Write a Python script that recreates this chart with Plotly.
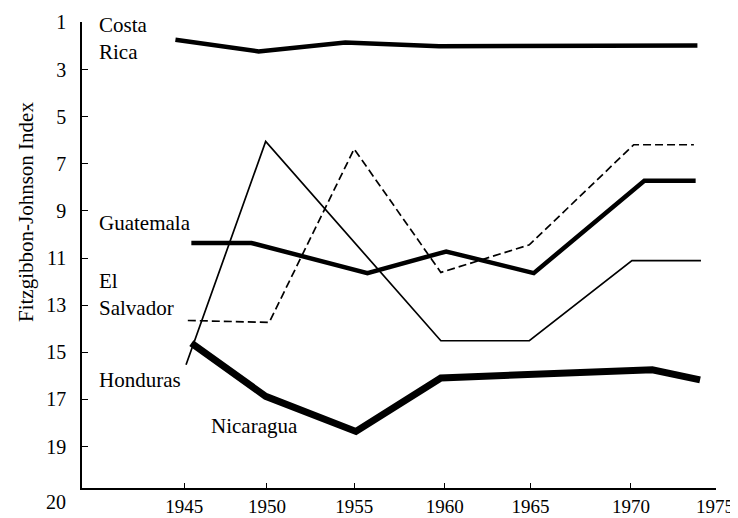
import plotly.graph_objects as go

# ── Data ─────────────────────────────────────────────────────────────────────
COSTA_RICA_YEARS = [1944.5, 1949.2, 1954.1, 1959.4, 1974.0]
COSTA_RICA_INDEX = [1.73, 2.23, 1.85, 2.01, 1.98]

HONDURAS_YEARS = [1945.1, 1949.6, 1959.5, 1964.5, 1970.3, 1974.2]
HONDURAS_INDEX = [15.53, 6.05, 14.51, 14.51, 11.11, 11.11]

EL_SALVADOR_YEARS = [1945.2, 1949.8, 1954.6, 1959.5, 1964.5, 1970.4, 1973.8]
EL_SALVADOR_INDEX = [13.65, 13.73, 6.37, 11.61, 10.44, 6.19, 6.19]

GUATEMALA_YEARS = [1945.4, 1948.8, 1955.35, 1959.8, 1964.75, 1971.0, 1973.9]
GUATEMALA_INDEX = [10.36, 10.36, 11.64, 10.72, 11.64, 7.72, 7.72]

NICARAGUA_YEARS = [1945.4, 1949.6, 1954.7, 1959.5, 1971.45, 1974.15]
NICARAGUA_INDEX = [14.61, 16.87, 18.36, 16.09, 15.74, 16.17]

# the hand-drawn year ticks are not evenly spaced
X_TICK_POS = [1945, 1949.67, 1954.6, 1959.72, 1964.57, 1970.24, 1975]
X_TICK_TEXT = ["1945", "1950", "1955", "1960", "1965", "1970", "1975"]
Y_TICK_VALS = [1, 3, 5, 7, 9, 11, 13, 15, 17, 19]

FONT = "Liberation Serif, Times New Roman, serif"
INK = "#000000"

# the page body adds an 8px margin, so the figure is drawn 8px in from the corner
PAGE = 8
W, H = 738 - PAGE, 518 - PAGE
# plot box in figure pixels
L, R, T, B = 82 - PAGE, 22, 22 - PAGE, 30
PW, PH = W - L - R, H - T - B


def px_x(x):
    # screen pixel -> paper fraction
    return (x - PAGE - L) / PW


def px_y(y):
    return 1 - (y - PAGE - T) / PH


fig = go.Figure()

for xs, ys, width, dash in [
    (COSTA_RICA_YEARS, COSTA_RICA_INDEX, 4.5, "solid"),
    (HONDURAS_YEARS, HONDURAS_INDEX, 1.7, "solid"),
    (EL_SALVADOR_YEARS, EL_SALVADOR_INDEX, 1.7, "8px,4px"),
    (GUATEMALA_YEARS, GUATEMALA_INDEX, 4.5, "solid"),
    (NICARAGUA_YEARS, NICARAGUA_INDEX, 7, "solid"),
]:
    fig.add_trace(go.Scatter(
        x=xs, y=ys, mode="lines",
        line=dict(color=INK, width=width, dash=dash),
        showlegend=False, hoverinfo="skip",
    ))

# country labels, placed as in the original
labels = [
    ("Costa<br>Rica", 97, 38),
    ("Guatemala", 97, 223),
    ("El<br>Salvador", 97, 294),
    ("Honduras", 97, 380),
    ("Nicaragua", 209, 426),
]
for text, xpx, ypx in labels:
    fig.add_annotation(
        text=text, xref="paper", yref="paper",
        x=px_x(xpx), y=px_y(ypx),
        xanchor="left", yanchor="middle", align="left",
        showarrow=False, font=dict(family=FONT, size=21, color=INK),
    )

# bottom label of the index axis sits under the corner
fig.add_annotation(
    text="20", xref="paper", yref="paper", x=0, y=0,
    xanchor="right", yanchor="top", xshift=-14, yshift=-1,
    showarrow=False, font=dict(family=FONT, size=20, color=INK),
)

# axis title, centred a little above the middle like the scan
fig.add_annotation(
    text="Fitzgibbon-Johnson Index", xref="paper", yref="paper",
    x=px_x(26), y=px_y(212), textangle=-90,
    xanchor="center", yanchor="middle", showarrow=False,
    font=dict(family=FONT, size=21, color=INK),
)

fig.update_layout(
    width=W, height=H,
    paper_bgcolor="white", plot_bgcolor="white",
    margin=dict(l=L, r=R, t=T, b=B),
    font=dict(family=FONT, size=20, color=INK),
    xaxis=dict(
        range=[1939.22, 1975.05], tickvals=X_TICK_POS, ticktext=X_TICK_TEXT,
        showgrid=False, zeroline=False, showline=True, linecolor=INK, linewidth=1.5,
        ticks="inside", ticklen=5, tickcolor=INK, tickwidth=1.2,
        tickfont=dict(size=19), ticklabelstandoff=0, automargin=False,
    ),
    yaxis=dict(
        range=[20.76, 0.98], tickvals=Y_TICK_VALS,
        showgrid=False, zeroline=False, showline=True, linecolor=INK, linewidth=1.5,
        ticks="inside", ticklen=6, tickcolor=INK, tickwidth=1.2,
        ticklabelstandoff=10, automargin=False,
    ),
)

fig.write_html("out.html")
